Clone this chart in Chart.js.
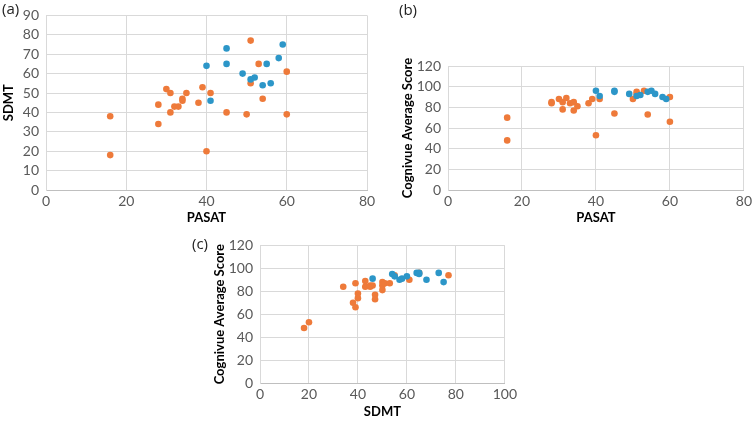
<!DOCTYPE html>
<html>
<head>
<meta charset="utf-8">
<script src="https://cdn.jsdelivr.net/npm/chart.js@4.4.0/dist/chart.umd.min.js"></script>
<style>
    body { margin: 0; background: #fff; }
    #wrap { position: relative; width: 755px; height: 422px; overflow: hidden; }
    canvas { position: absolute; }
    .tag { position: absolute; font-family: 'Open Sans', sans-serif; font-size: 15px; color: #222; }
</style>
</head>
<body>
<div id="wrap">
    <canvas id="chartA" style="left:0;top:0" width="380" height="226"></canvas>
    <canvas id="chartB" style="left:380px;top:0" width="375" height="226"></canvas>
    <canvas id="chartC" style="left:180px;top:230px" width="340" height="192"></canvas>
    <div class="tag" style="left:2px;top:-2px">(a)</div>
    <div class="tag" style="left:399px;top:-1px">(b)</div>
    <div class="tag" style="left:192px;top:233px">(c)</div>
</div>
<script>
// Panel (a): PASAT vs SDMT
var pasatBlue = [40, 41, 45, 45, 49, 51, 52, 54, 55, 56, 58, 59];
var sdmtBlueA = [64, 46, 73, 65, 60, 57, 58, 54, 65, 55, 68, 75];
var pasatOrange = [16, 16, 28, 28, 30, 31, 31, 32, 33, 34, 34, 35, 38, 39, 40, 41, 45, 50, 51, 51, 53, 54, 60, 60];
var sdmtOrangeA = [38, 18, 44, 34, 52, 50, 40, 43, 43, 47, 46, 50, 45, 53, 20, 50, 40, 39, 77, 55, 65, 47, 61, 39];

// Panel (b): PASAT vs Cognivue
var cogBlueB = [96, 91, 96, 95, 93, 91, 92, 95, 96, 93, 90, 88];
var cogOrangeB = [70, 48, 84, 85, 88, 85, 78, 89, 84, 85, 77, 81, 84, 88, 53, 88, 74, 88, 95, 93, 96, 73, 90, 66];

// Panel (c): SDMT vs Cognivue
var sdmtBlueC = [46, 54, 55, 57, 58, 60, 64, 65, 65, 68, 73, 75];
var cogBlueC = [91, 95, 93, 90, 91, 93, 96, 96, 95, 90, 96, 88];
var sdmtOrangeC = [18, 20, 34, 38, 39, 39, 40, 40, 43, 43, 45, 46, 47, 47, 50, 50, 50, 51, 53, 61, 77, 65, 55, 45];
var cogOrangeC = [48, 53, 84, 70, 66, 87, 78, 74, 89, 84, 84, 85, 77, 73, 88, 85, 81, 87, 87, 90, 94, 96, 94, 85];

var blue = '#2C96C8';
var orange = '#EE7A3A';
var gridColor = '#d9d9d9';
var tickFont = { family: 'Lato', size: 14 };
var titleFont = { family: 'Lato', size: 13, weight: 'bold' };

function toPoints(xs, ys) {
    return xs.map(function(x, i) { return { x: x, y: ys[i] }; });
}

function makeChart(id, cfg) {
    var ctx = document.getElementById(id).getContext('2d');
    return new Chart(ctx, {
        type: 'scatter',
        data: {
            datasets: [{
                data: toPoints(cfg.bx, cfg.by),
                backgroundColor: blue,
                borderColor: blue,
                pointRadius: 3.3,
                borderWidth: 0
            }, {
                data: toPoints(cfg.ox, cfg.oy),
                backgroundColor: orange,
                borderColor: orange,
                pointRadius: 3.3,
                borderWidth: 0
            }]
        },
        options: {
            responsive: false,
            animation: false,
            layout: { padding: cfg.padding },
            plugins: { legend: { display: false }, tooltip: { enabled: false } },
            scales: {
                x: {
                    min: 0, max: cfg.xMax,
                    ticks: { stepSize: cfg.xStep, autoSkip: false, maxRotation: 0, color: '#595959', font: tickFont, padding: 3 },
                    grid: { color: gridColor, drawTicks: false },
                    border: { color: '#bfbfbf' },
                    title: { display: true, text: cfg.xTitle, color: '#000', font: titleFont, padding: { top: 0, bottom: cfg.xTitlePad } },
                    afterFit: function(scale) { scale.height = cfg.xHeight; }
                },
                y: {
                    min: 0, max: cfg.yMax,
                    ticks: { stepSize: cfg.yStep, autoSkip: false, color: '#595959', font: tickFont, padding: 7 },
                    grid: { color: gridColor, drawTicks: false },
                    border: { color: gridColor },
                    title: { display: true, text: cfg.yTitle, color: '#000', font: titleFont, padding: { top: cfg.yTitlePad, bottom: 0 } },
                    afterFit: function(scale) { scale.width = cfg.yWidth; }
                }
            }
        }
    });
}

makeChart('chartA', {
    bx: pasatBlue, by: sdmtBlueA, ox: pasatOrange, oy: sdmtOrangeA,
    xMax: 80, xStep: 20, yMax: 90, yStep: 10,
    xTitle: 'PASAT', yTitle: 'SDMT',
    padding: { left: 0, top: 7, right: 13, bottom: 0 },
    yWidth: 46, xHeight: 36, xTitlePad: 0, yTitlePad: 1
});

makeChart('chartB', {
    bx: pasatBlue, by: cogBlueB, ox: pasatOrange, oy: cogOrangeB,
    xMax: 80, xStep: 20, yMax: 120, yStep: 20,
    xTitle: 'PASAT', yTitle: 'Cognivue Average Score',
    padding: { left: 0, top: 66, right: 10, bottom: 0 },
    yWidth: 68, xHeight: 36, xTitlePad: 0, yTitlePad: 20
});

makeChart('chartC', {
    bx: sdmtBlueC, by: cogBlueC, ox: sdmtOrangeC, oy: cogOrangeC,
    xMax: 100, xStep: 20, yMax: 120, yStep: 20,
    xTitle: 'SDMT', yTitle: 'Cognivue Average Score',
    padding: { left: 0, top: 15, right: 15, bottom: 0 },
    yWidth: 80, xHeight: 39, xTitlePad: 2, yTitlePad: 32
});
</script>
</body>
</html>
